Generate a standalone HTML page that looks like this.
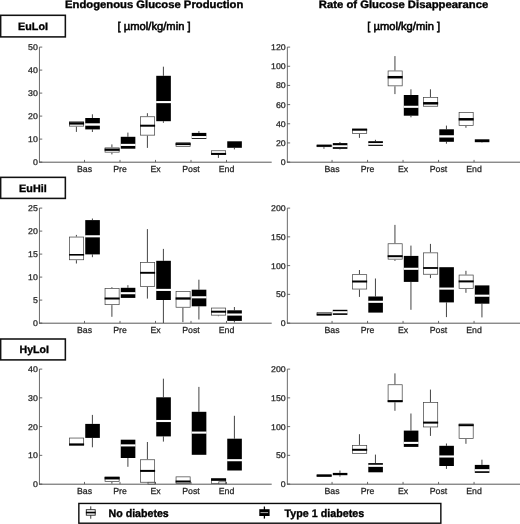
<!DOCTYPE html>
<html><head><meta charset="utf-8"><title>Glucose box plots</title>
<style>
html,body{margin:0;padding:0;background:#fff;}
body{width:520px;height:524px;overflow:hidden;}
svg{display:block;will-change:transform;text-rendering:geometricPrecision;font-family:"Liberation Sans",sans-serif;}
</style></head><body>
<svg width="520" height="524" viewBox="0 0 520 524">
<rect x="0" y="0" width="520" height="524" fill="#fff"/>
<line x1="39.45" y1="47.1" x2="39.45" y2="162.5" stroke="#454545" stroke-width="0.8"/>
<line x1="39.05" y1="162.2" x2="271.7" y2="162.2" stroke="#454545" stroke-width="0.9"/>
<line x1="39.45" y1="162.1" x2="42.25" y2="162.1" stroke="#454545" stroke-width="0.8"/>
<text x="37.85" y="165.1" font-size="8.3" text-anchor="end" textLength="4.89" lengthAdjust="spacingAndGlyphs" fill="#222" stroke="#222" stroke-width="0.25">0</text>
<line x1="39.45" y1="139.1" x2="42.25" y2="139.1" stroke="#454545" stroke-width="0.8"/>
<text x="37.85" y="142.1" font-size="8.3" text-anchor="end" textLength="9.79" lengthAdjust="spacingAndGlyphs" fill="#222" stroke="#222" stroke-width="0.25">10</text>
<line x1="39.45" y1="116.1" x2="42.25" y2="116.1" stroke="#454545" stroke-width="0.8"/>
<text x="37.85" y="119.1" font-size="8.3" text-anchor="end" textLength="9.79" lengthAdjust="spacingAndGlyphs" fill="#222" stroke="#222" stroke-width="0.25">20</text>
<line x1="39.45" y1="93.1" x2="42.25" y2="93.1" stroke="#454545" stroke-width="0.8"/>
<text x="37.85" y="96.1" font-size="8.3" text-anchor="end" textLength="9.79" lengthAdjust="spacingAndGlyphs" fill="#222" stroke="#222" stroke-width="0.25">30</text>
<line x1="39.45" y1="70.1" x2="42.25" y2="70.1" stroke="#454545" stroke-width="0.8"/>
<text x="37.85" y="73.1" font-size="8.3" text-anchor="end" textLength="9.79" lengthAdjust="spacingAndGlyphs" fill="#222" stroke="#222" stroke-width="0.25">40</text>
<line x1="39.45" y1="47.1" x2="42.25" y2="47.1" stroke="#454545" stroke-width="0.8"/>
<text x="37.85" y="50.1" font-size="8.3" text-anchor="end" textLength="9.79" lengthAdjust="spacingAndGlyphs" fill="#222" stroke="#222" stroke-width="0.25">50</text>
<line x1="84.5" y1="162.1" x2="84.5" y2="159.9" stroke="#454545" stroke-width="0.8"/>
<text x="84.5" y="172.45" font-size="8.75" text-anchor="middle" fill="#222" stroke="#222" stroke-width="0.25">Bas</text>
<line x1="120" y1="162.1" x2="120" y2="159.9" stroke="#454545" stroke-width="0.8"/>
<text x="120" y="172.45" font-size="8.75" text-anchor="middle" fill="#222" stroke="#222" stroke-width="0.25">Pre</text>
<line x1="155.5" y1="162.1" x2="155.5" y2="159.9" stroke="#454545" stroke-width="0.8"/>
<text x="155.5" y="172.45" font-size="8.75" text-anchor="middle" fill="#222" stroke="#222" stroke-width="0.25">Ex</text>
<line x1="191" y1="162.1" x2="191" y2="159.9" stroke="#454545" stroke-width="0.8"/>
<text x="191" y="172.45" font-size="8.75" text-anchor="middle" fill="#222" stroke="#222" stroke-width="0.25">Post</text>
<line x1="226.5" y1="162.1" x2="226.5" y2="159.9" stroke="#454545" stroke-width="0.8"/>
<text x="226.5" y="172.45" font-size="8.75" text-anchor="middle" fill="#222" stroke="#222" stroke-width="0.25">End</text>
<line x1="76.4" y1="126.6" x2="76.4" y2="131.9" stroke="#3a3a3a" stroke-width="0.95"/>
<rect x="69.55" y="121.75" width="14.1" height="4.4" fill="#fff" stroke="#444" stroke-width="0.72"/>
<rect x="69.1" y="122.2" width="15" height="2.4" fill="#000"/>
<line x1="92.4" y1="114.3" x2="92.4" y2="118" stroke="#3a3a3a" stroke-width="0.95"/>
<line x1="92.4" y1="129.4" x2="92.4" y2="132" stroke="#3a3a3a" stroke-width="0.95"/>
<rect x="85.25" y="118" width="14.6" height="11.4" fill="#000"/>
<rect x="85.1" y="123.3" width="15" height="2.4" fill="#fff"/>
<line x1="111.9" y1="144.4" x2="111.9" y2="147.4" stroke="#3a3a3a" stroke-width="0.95"/>
<line x1="111.9" y1="152.6" x2="111.9" y2="154.4" stroke="#3a3a3a" stroke-width="0.95"/>
<rect x="105.05" y="147.85" width="14.1" height="4.3" fill="#fff" stroke="#444" stroke-width="0.72"/>
<rect x="104.6" y="148.55" width="15" height="2.3" fill="#000"/>
<line x1="127.9" y1="132.6" x2="127.9" y2="136.8" stroke="#3a3a3a" stroke-width="0.95"/>
<rect x="120.75" y="136.8" width="14.6" height="11.9" fill="#000"/>
<rect x="120.6" y="143.85" width="15" height="2.1" fill="#fff"/>
<line x1="147.4" y1="113.2" x2="147.4" y2="116.3" stroke="#3a3a3a" stroke-width="0.95"/>
<line x1="147.4" y1="135.6" x2="147.4" y2="147.9" stroke="#3a3a3a" stroke-width="0.95"/>
<rect x="140.55" y="116.75" width="14.1" height="18.4" fill="#fff" stroke="#444" stroke-width="0.72"/>
<rect x="140.1" y="124.7" width="15" height="2" fill="#000"/>
<line x1="163.4" y1="66.7" x2="163.4" y2="75.8" stroke="#3a3a3a" stroke-width="0.95"/>
<line x1="163.4" y1="121.2" x2="163.4" y2="122.8" stroke="#3a3a3a" stroke-width="0.95"/>
<rect x="156.25" y="75.8" width="14.6" height="45.4" fill="#000"/>
<rect x="156.1" y="101.05" width="15" height="2.1" fill="#fff"/>
<rect x="176.05" y="142.65" width="14.1" height="3.8" fill="#fff" stroke="#444" stroke-width="0.72"/>
<rect x="175.6" y="143.1" width="15" height="2" fill="#000"/>
<line x1="198.9" y1="131.1" x2="198.9" y2="132.9" stroke="#3a3a3a" stroke-width="0.95"/>
<rect x="191.75" y="132.9" width="14.6" height="6.1" fill="#000"/>
<rect x="191.6" y="136.05" width="15" height="2.1" fill="#fff"/>
<line x1="218.4" y1="154.9" x2="218.4" y2="157.9" stroke="#3a3a3a" stroke-width="0.95"/>
<rect x="211.55" y="150.75" width="14.1" height="3.7" fill="#fff" stroke="#444" stroke-width="0.72"/>
<rect x="211.1" y="152.9" width="15" height="2" fill="#000"/>
<line x1="234.4" y1="147.8" x2="234.4" y2="149.4" stroke="#3a3a3a" stroke-width="0.95"/>
<rect x="227.25" y="141.3" width="14.6" height="6.5" fill="#000"/>
<line x1="287.35" y1="47.1" x2="287.35" y2="162.5" stroke="#454545" stroke-width="0.8"/>
<line x1="286.95" y1="162.2" x2="520" y2="162.2" stroke="#454545" stroke-width="0.9"/>
<line x1="287.35" y1="162.1" x2="290.15" y2="162.1" stroke="#454545" stroke-width="0.8"/>
<text x="285.75" y="165.1" font-size="8.3" text-anchor="end" textLength="4.89" lengthAdjust="spacingAndGlyphs" fill="#222" stroke="#222" stroke-width="0.25">0</text>
<line x1="287.35" y1="142.93" x2="290.15" y2="142.93" stroke="#454545" stroke-width="0.8"/>
<text x="285.75" y="145.93" font-size="8.3" text-anchor="end" textLength="9.79" lengthAdjust="spacingAndGlyphs" fill="#222" stroke="#222" stroke-width="0.25">20</text>
<line x1="287.35" y1="123.77" x2="290.15" y2="123.77" stroke="#454545" stroke-width="0.8"/>
<text x="285.75" y="126.77" font-size="8.3" text-anchor="end" textLength="9.79" lengthAdjust="spacingAndGlyphs" fill="#222" stroke="#222" stroke-width="0.25">40</text>
<line x1="287.35" y1="104.6" x2="290.15" y2="104.6" stroke="#454545" stroke-width="0.8"/>
<text x="285.75" y="107.6" font-size="8.3" text-anchor="end" textLength="9.79" lengthAdjust="spacingAndGlyphs" fill="#222" stroke="#222" stroke-width="0.25">60</text>
<line x1="287.35" y1="85.43" x2="290.15" y2="85.43" stroke="#454545" stroke-width="0.8"/>
<text x="285.75" y="88.43" font-size="8.3" text-anchor="end" textLength="9.79" lengthAdjust="spacingAndGlyphs" fill="#222" stroke="#222" stroke-width="0.25">80</text>
<line x1="287.35" y1="66.27" x2="290.15" y2="66.27" stroke="#454545" stroke-width="0.8"/>
<text x="285.75" y="69.27" font-size="8.3" text-anchor="end" textLength="14.68" lengthAdjust="spacingAndGlyphs" fill="#222" stroke="#222" stroke-width="0.25">100</text>
<line x1="287.35" y1="47.1" x2="290.15" y2="47.1" stroke="#454545" stroke-width="0.8"/>
<text x="285.75" y="50.1" font-size="8.3" text-anchor="end" textLength="14.68" lengthAdjust="spacingAndGlyphs" fill="#222" stroke="#222" stroke-width="0.25">120</text>
<line x1="332.05" y1="162.1" x2="332.05" y2="159.9" stroke="#454545" stroke-width="0.8"/>
<text x="332.05" y="172.45" font-size="8.75" text-anchor="middle" fill="#222" stroke="#222" stroke-width="0.25">Bas</text>
<line x1="367.55" y1="162.1" x2="367.55" y2="159.9" stroke="#454545" stroke-width="0.8"/>
<text x="367.55" y="172.45" font-size="8.75" text-anchor="middle" fill="#222" stroke="#222" stroke-width="0.25">Pre</text>
<line x1="403.05" y1="162.1" x2="403.05" y2="159.9" stroke="#454545" stroke-width="0.8"/>
<text x="403.05" y="172.45" font-size="8.75" text-anchor="middle" fill="#222" stroke="#222" stroke-width="0.25">Ex</text>
<line x1="438.55" y1="162.1" x2="438.55" y2="159.9" stroke="#454545" stroke-width="0.8"/>
<text x="438.55" y="172.45" font-size="8.75" text-anchor="middle" fill="#222" stroke="#222" stroke-width="0.25">Post</text>
<line x1="474.05" y1="162.1" x2="474.05" y2="159.9" stroke="#454545" stroke-width="0.8"/>
<text x="474.05" y="172.45" font-size="8.75" text-anchor="middle" fill="#222" stroke="#222" stroke-width="0.25">End</text>
<line x1="323.95" y1="147.15" x2="323.95" y2="148.8" stroke="#3a3a3a" stroke-width="0.95"/>
<rect x="317.1" y="145" width="14.1" height="1.7" fill="#fff" stroke="#444" stroke-width="0.72"/>
<rect x="316.65" y="144.8" width="15" height="2" fill="#000"/>
<line x1="339.95" y1="142" x2="339.95" y2="143.1" stroke="#3a3a3a" stroke-width="0.95"/>
<line x1="339.95" y1="148.85" x2="339.95" y2="149.4" stroke="#3a3a3a" stroke-width="0.95"/>
<rect x="332.8" y="143.1" width="14.6" height="5.75" fill="#000"/>
<rect x="332.65" y="145.25" width="15" height="1.9" fill="#fff"/>
<line x1="359.45" y1="133.9" x2="359.45" y2="137.9" stroke="#3a3a3a" stroke-width="0.95"/>
<rect x="352.6" y="128.95" width="14.1" height="4.5" fill="#fff" stroke="#444" stroke-width="0.72"/>
<rect x="352.15" y="128.8" width="15" height="1.9" fill="#000"/>
<line x1="375.45" y1="139.8" x2="375.45" y2="141.2" stroke="#3a3a3a" stroke-width="0.95"/>
<rect x="368.3" y="141.2" width="14.6" height="4.7" fill="#000"/>
<rect x="368.15" y="143.05" width="15" height="1.7" fill="#fff"/>
<line x1="394.95" y1="56.1" x2="394.95" y2="70.5" stroke="#3a3a3a" stroke-width="0.95"/>
<line x1="394.95" y1="86.3" x2="394.95" y2="94.1" stroke="#3a3a3a" stroke-width="0.95"/>
<rect x="388.1" y="70.95" width="14.1" height="14.9" fill="#fff" stroke="#444" stroke-width="0.72"/>
<rect x="387.65" y="75.95" width="15" height="2.5" fill="#000"/>
<line x1="410.95" y1="89.3" x2="410.95" y2="95" stroke="#3a3a3a" stroke-width="0.95"/>
<line x1="410.95" y1="115.7" x2="410.95" y2="117.3" stroke="#3a3a3a" stroke-width="0.95"/>
<rect x="403.8" y="95" width="14.6" height="20.7" fill="#000"/>
<rect x="403.65" y="105.75" width="15" height="2.1" fill="#fff"/>
<line x1="430.45" y1="89.3" x2="430.45" y2="97.1" stroke="#3a3a3a" stroke-width="0.95"/>
<rect x="423.6" y="97.55" width="14.1" height="8.7" fill="#fff" stroke="#444" stroke-width="0.72"/>
<rect x="423.15" y="102.05" width="15" height="2.5" fill="#000"/>
<line x1="446.45" y1="125.6" x2="446.45" y2="129.3" stroke="#3a3a3a" stroke-width="0.95"/>
<line x1="446.45" y1="141.8" x2="446.45" y2="143.7" stroke="#3a3a3a" stroke-width="0.95"/>
<rect x="439.3" y="129.3" width="14.6" height="12.5" fill="#000"/>
<rect x="439.15" y="135.25" width="15" height="2.3" fill="#fff"/>
<line x1="465.95" y1="125.9" x2="465.95" y2="127.8" stroke="#3a3a3a" stroke-width="0.95"/>
<rect x="459.1" y="112.55" width="14.1" height="12.9" fill="#fff" stroke="#444" stroke-width="0.72"/>
<rect x="458.65" y="118.05" width="15" height="2.5" fill="#000"/>
<line x1="481.95" y1="142.2" x2="481.95" y2="142.6" stroke="#3a3a3a" stroke-width="0.95"/>
<rect x="474.8" y="139.3" width="14.6" height="2.9" fill="#000"/>
<line x1="39.45" y1="208.1" x2="39.45" y2="323.5" stroke="#454545" stroke-width="0.8"/>
<line x1="39.05" y1="323.2" x2="271.7" y2="323.2" stroke="#454545" stroke-width="0.9"/>
<line x1="39.45" y1="323.1" x2="42.25" y2="323.1" stroke="#454545" stroke-width="0.8"/>
<text x="37.85" y="326.1" font-size="8.3" text-anchor="end" textLength="4.89" lengthAdjust="spacingAndGlyphs" fill="#222" stroke="#222" stroke-width="0.25">0</text>
<line x1="39.45" y1="300.1" x2="42.25" y2="300.1" stroke="#454545" stroke-width="0.8"/>
<text x="37.85" y="303.1" font-size="8.3" text-anchor="end" textLength="4.89" lengthAdjust="spacingAndGlyphs" fill="#222" stroke="#222" stroke-width="0.25">5</text>
<line x1="39.45" y1="277.1" x2="42.25" y2="277.1" stroke="#454545" stroke-width="0.8"/>
<text x="37.85" y="280.1" font-size="8.3" text-anchor="end" textLength="9.79" lengthAdjust="spacingAndGlyphs" fill="#222" stroke="#222" stroke-width="0.25">10</text>
<line x1="39.45" y1="254.1" x2="42.25" y2="254.1" stroke="#454545" stroke-width="0.8"/>
<text x="37.85" y="257.1" font-size="8.3" text-anchor="end" textLength="9.79" lengthAdjust="spacingAndGlyphs" fill="#222" stroke="#222" stroke-width="0.25">15</text>
<line x1="39.45" y1="231.1" x2="42.25" y2="231.1" stroke="#454545" stroke-width="0.8"/>
<text x="37.85" y="234.1" font-size="8.3" text-anchor="end" textLength="9.79" lengthAdjust="spacingAndGlyphs" fill="#222" stroke="#222" stroke-width="0.25">20</text>
<line x1="39.45" y1="208.1" x2="42.25" y2="208.1" stroke="#454545" stroke-width="0.8"/>
<text x="37.85" y="211.1" font-size="8.3" text-anchor="end" textLength="9.79" lengthAdjust="spacingAndGlyphs" fill="#222" stroke="#222" stroke-width="0.25">25</text>
<line x1="84.5" y1="323.1" x2="84.5" y2="320.9" stroke="#454545" stroke-width="0.8"/>
<text x="84.5" y="333.45" font-size="8.75" text-anchor="middle" fill="#222" stroke="#222" stroke-width="0.25">Bas</text>
<line x1="120" y1="323.1" x2="120" y2="320.9" stroke="#454545" stroke-width="0.8"/>
<text x="120" y="333.45" font-size="8.75" text-anchor="middle" fill="#222" stroke="#222" stroke-width="0.25">Pre</text>
<line x1="155.5" y1="323.1" x2="155.5" y2="320.9" stroke="#454545" stroke-width="0.8"/>
<text x="155.5" y="333.45" font-size="8.75" text-anchor="middle" fill="#222" stroke="#222" stroke-width="0.25">Ex</text>
<line x1="191" y1="323.1" x2="191" y2="320.9" stroke="#454545" stroke-width="0.8"/>
<text x="191" y="333.45" font-size="8.75" text-anchor="middle" fill="#222" stroke="#222" stroke-width="0.25">Post</text>
<line x1="226.5" y1="323.1" x2="226.5" y2="320.9" stroke="#454545" stroke-width="0.8"/>
<text x="226.5" y="333.45" font-size="8.75" text-anchor="middle" fill="#222" stroke="#222" stroke-width="0.25">End</text>
<line x1="76.4" y1="234.9" x2="76.4" y2="236.6" stroke="#3a3a3a" stroke-width="0.95"/>
<line x1="76.4" y1="260.2" x2="76.4" y2="263.5" stroke="#3a3a3a" stroke-width="0.95"/>
<rect x="69.55" y="237.05" width="14.1" height="22.7" fill="#fff" stroke="#444" stroke-width="0.72"/>
<rect x="69.1" y="254" width="15" height="1.6" fill="#000"/>
<line x1="92.4" y1="218.5" x2="92.4" y2="220.1" stroke="#3a3a3a" stroke-width="0.95"/>
<line x1="92.4" y1="254.4" x2="92.4" y2="257.2" stroke="#3a3a3a" stroke-width="0.95"/>
<rect x="85.25" y="220.1" width="14.6" height="34.3" fill="#000"/>
<rect x="85.1" y="235.25" width="15" height="2.1" fill="#fff"/>
<line x1="111.9" y1="287.2" x2="111.9" y2="288.1" stroke="#3a3a3a" stroke-width="0.95"/>
<line x1="111.9" y1="305.1" x2="111.9" y2="316.8" stroke="#3a3a3a" stroke-width="0.95"/>
<rect x="105.05" y="288.55" width="14.1" height="16.1" fill="#fff" stroke="#444" stroke-width="0.72"/>
<rect x="104.6" y="297.5" width="15" height="2" fill="#000"/>
<line x1="127.9" y1="285.2" x2="127.9" y2="287.8" stroke="#3a3a3a" stroke-width="0.95"/>
<rect x="120.75" y="287.8" width="14.6" height="10.1" fill="#000"/>
<rect x="120.6" y="292.15" width="15" height="2.1" fill="#fff"/>
<line x1="147.4" y1="229.1" x2="147.4" y2="262.1" stroke="#3a3a3a" stroke-width="0.95"/>
<line x1="147.4" y1="286.8" x2="147.4" y2="298.6" stroke="#3a3a3a" stroke-width="0.95"/>
<rect x="140.55" y="262.55" width="14.1" height="23.8" fill="#fff" stroke="#444" stroke-width="0.72"/>
<rect x="140.1" y="271.85" width="15" height="1.9" fill="#000"/>
<line x1="163.4" y1="248.9" x2="163.4" y2="260.8" stroke="#3a3a3a" stroke-width="0.95"/>
<line x1="163.4" y1="300" x2="163.4" y2="323" stroke="#3a3a3a" stroke-width="0.95"/>
<rect x="156.25" y="260.8" width="14.6" height="39.2" fill="#000"/>
<rect x="156.1" y="288.85" width="15" height="2.1" fill="#fff"/>
<line x1="182.9" y1="307.7" x2="182.9" y2="322.1" stroke="#3a3a3a" stroke-width="0.95"/>
<rect x="176.05" y="291.45" width="14.1" height="15.8" fill="#fff" stroke="#444" stroke-width="0.72"/>
<rect x="175.6" y="297.35" width="15" height="2.3" fill="#000"/>
<line x1="198.9" y1="279.7" x2="198.9" y2="289.7" stroke="#3a3a3a" stroke-width="0.95"/>
<line x1="198.9" y1="306.3" x2="198.9" y2="319.5" stroke="#3a3a3a" stroke-width="0.95"/>
<rect x="191.75" y="289.7" width="14.6" height="16.6" fill="#000"/>
<rect x="191.6" y="296.25" width="15" height="2.1" fill="#fff"/>
<line x1="218.4" y1="315.6" x2="218.4" y2="316.2" stroke="#3a3a3a" stroke-width="0.95"/>
<rect x="211.55" y="308.05" width="14.1" height="7.1" fill="#fff" stroke="#444" stroke-width="0.72"/>
<rect x="211.1" y="310.7" width="15" height="2" fill="#000"/>
<line x1="234.4" y1="307" x2="234.4" y2="310.3" stroke="#3a3a3a" stroke-width="0.95"/>
<line x1="234.4" y1="320.9" x2="234.4" y2="322.4" stroke="#3a3a3a" stroke-width="0.95"/>
<rect x="227.25" y="310.3" width="14.6" height="10.6" fill="#000"/>
<rect x="227.1" y="313.5" width="15" height="2.1" fill="#fff"/>
<line x1="287.35" y1="208.1" x2="287.35" y2="323.5" stroke="#454545" stroke-width="0.8"/>
<line x1="286.95" y1="323.2" x2="520" y2="323.2" stroke="#454545" stroke-width="0.9"/>
<line x1="287.35" y1="323.1" x2="290.15" y2="323.1" stroke="#454545" stroke-width="0.8"/>
<text x="285.75" y="326.1" font-size="8.3" text-anchor="end" textLength="4.89" lengthAdjust="spacingAndGlyphs" fill="#222" stroke="#222" stroke-width="0.25">0</text>
<line x1="287.35" y1="294.35" x2="290.15" y2="294.35" stroke="#454545" stroke-width="0.8"/>
<text x="285.75" y="297.35" font-size="8.3" text-anchor="end" textLength="9.79" lengthAdjust="spacingAndGlyphs" fill="#222" stroke="#222" stroke-width="0.25">50</text>
<line x1="287.35" y1="265.6" x2="290.15" y2="265.6" stroke="#454545" stroke-width="0.8"/>
<text x="285.75" y="268.6" font-size="8.3" text-anchor="end" textLength="14.68" lengthAdjust="spacingAndGlyphs" fill="#222" stroke="#222" stroke-width="0.25">100</text>
<line x1="287.35" y1="236.85" x2="290.15" y2="236.85" stroke="#454545" stroke-width="0.8"/>
<text x="285.75" y="239.85" font-size="8.3" text-anchor="end" textLength="14.68" lengthAdjust="spacingAndGlyphs" fill="#222" stroke="#222" stroke-width="0.25">150</text>
<line x1="287.35" y1="208.1" x2="290.15" y2="208.1" stroke="#454545" stroke-width="0.8"/>
<text x="285.75" y="211.1" font-size="8.3" text-anchor="end" textLength="14.68" lengthAdjust="spacingAndGlyphs" fill="#222" stroke="#222" stroke-width="0.25">200</text>
<line x1="332.05" y1="323.1" x2="332.05" y2="320.9" stroke="#454545" stroke-width="0.8"/>
<text x="332.05" y="333.45" font-size="8.75" text-anchor="middle" fill="#222" stroke="#222" stroke-width="0.25">Bas</text>
<line x1="367.55" y1="323.1" x2="367.55" y2="320.9" stroke="#454545" stroke-width="0.8"/>
<text x="367.55" y="333.45" font-size="8.75" text-anchor="middle" fill="#222" stroke="#222" stroke-width="0.25">Pre</text>
<line x1="403.05" y1="323.1" x2="403.05" y2="320.9" stroke="#454545" stroke-width="0.8"/>
<text x="403.05" y="333.45" font-size="8.75" text-anchor="middle" fill="#222" stroke="#222" stroke-width="0.25">Ex</text>
<line x1="438.55" y1="323.1" x2="438.55" y2="320.9" stroke="#454545" stroke-width="0.8"/>
<text x="438.55" y="333.45" font-size="8.75" text-anchor="middle" fill="#222" stroke="#222" stroke-width="0.25">Post</text>
<line x1="474.05" y1="323.1" x2="474.05" y2="320.9" stroke="#454545" stroke-width="0.8"/>
<text x="474.05" y="333.45" font-size="8.75" text-anchor="middle" fill="#222" stroke="#222" stroke-width="0.25">End</text>
<rect x="317.1" y="312.35" width="14.1" height="2.7" fill="#fff" stroke="#444" stroke-width="0.72"/>
<rect x="316.65" y="313.5" width="15" height="2" fill="#000"/>
<rect x="332.8" y="309.8" width="14.6" height="5.1" fill="#000"/>
<rect x="332.65" y="311.2" width="15" height="2.1" fill="#fff"/>
<line x1="359.45" y1="270" x2="359.45" y2="274.2" stroke="#3a3a3a" stroke-width="0.95"/>
<line x1="359.45" y1="289.5" x2="359.45" y2="296.9" stroke="#3a3a3a" stroke-width="0.95"/>
<rect x="352.6" y="274.65" width="14.1" height="14.4" fill="#fff" stroke="#444" stroke-width="0.72"/>
<rect x="352.15" y="280.5" width="15" height="2" fill="#000"/>
<line x1="375.45" y1="278.5" x2="375.45" y2="296.5" stroke="#3a3a3a" stroke-width="0.95"/>
<rect x="368.3" y="296.5" width="14.6" height="16.1" fill="#000"/>
<rect x="368.15" y="300.75" width="15" height="2.1" fill="#fff"/>
<line x1="394.95" y1="224.9" x2="394.95" y2="243.3" stroke="#3a3a3a" stroke-width="0.95"/>
<line x1="394.95" y1="259.6" x2="394.95" y2="260.9" stroke="#3a3a3a" stroke-width="0.95"/>
<rect x="388.1" y="243.75" width="14.1" height="15.4" fill="#fff" stroke="#444" stroke-width="0.72"/>
<rect x="387.65" y="255.2" width="15" height="2" fill="#000"/>
<line x1="410.95" y1="245.6" x2="410.95" y2="255.9" stroke="#3a3a3a" stroke-width="0.95"/>
<line x1="410.95" y1="281.9" x2="410.95" y2="309.8" stroke="#3a3a3a" stroke-width="0.95"/>
<rect x="403.8" y="255.9" width="14.6" height="26" fill="#000"/>
<rect x="403.65" y="267.75" width="15" height="2.1" fill="#fff"/>
<line x1="430.45" y1="243.9" x2="430.45" y2="252.4" stroke="#3a3a3a" stroke-width="0.95"/>
<line x1="430.45" y1="274.7" x2="430.45" y2="278.1" stroke="#3a3a3a" stroke-width="0.95"/>
<rect x="423.6" y="252.85" width="14.1" height="21.4" fill="#fff" stroke="#444" stroke-width="0.72"/>
<rect x="423.15" y="267.1" width="15" height="1.8" fill="#000"/>
<line x1="446.45" y1="302.4" x2="446.45" y2="317.1" stroke="#3a3a3a" stroke-width="0.95"/>
<rect x="439.3" y="267.2" width="14.6" height="35.2" fill="#000"/>
<rect x="439.15" y="287.55" width="15" height="2.1" fill="#fff"/>
<line x1="465.95" y1="270.8" x2="465.95" y2="274.6" stroke="#3a3a3a" stroke-width="0.95"/>
<line x1="465.95" y1="288.8" x2="465.95" y2="292.8" stroke="#3a3a3a" stroke-width="0.95"/>
<rect x="459.1" y="275.05" width="14.1" height="13.3" fill="#fff" stroke="#444" stroke-width="0.72"/>
<rect x="458.65" y="280.4" width="15" height="2" fill="#000"/>
<line x1="481.95" y1="303.7" x2="481.95" y2="317.4" stroke="#3a3a3a" stroke-width="0.95"/>
<rect x="474.8" y="285.4" width="14.6" height="18.3" fill="#000"/>
<rect x="474.65" y="294.65" width="15" height="2.1" fill="#fff"/>
<line x1="39.45" y1="369.1" x2="39.45" y2="484.5" stroke="#454545" stroke-width="0.8"/>
<line x1="39.05" y1="484.2" x2="271.7" y2="484.2" stroke="#454545" stroke-width="0.9"/>
<line x1="39.45" y1="484.1" x2="42.25" y2="484.1" stroke="#454545" stroke-width="0.8"/>
<text x="37.85" y="487.1" font-size="8.3" text-anchor="end" textLength="4.89" lengthAdjust="spacingAndGlyphs" fill="#222" stroke="#222" stroke-width="0.25">0</text>
<line x1="39.45" y1="455.35" x2="42.25" y2="455.35" stroke="#454545" stroke-width="0.8"/>
<text x="37.85" y="458.35" font-size="8.3" text-anchor="end" textLength="9.79" lengthAdjust="spacingAndGlyphs" fill="#222" stroke="#222" stroke-width="0.25">10</text>
<line x1="39.45" y1="426.6" x2="42.25" y2="426.6" stroke="#454545" stroke-width="0.8"/>
<text x="37.85" y="429.6" font-size="8.3" text-anchor="end" textLength="9.79" lengthAdjust="spacingAndGlyphs" fill="#222" stroke="#222" stroke-width="0.25">20</text>
<line x1="39.45" y1="397.85" x2="42.25" y2="397.85" stroke="#454545" stroke-width="0.8"/>
<text x="37.85" y="400.85" font-size="8.3" text-anchor="end" textLength="9.79" lengthAdjust="spacingAndGlyphs" fill="#222" stroke="#222" stroke-width="0.25">30</text>
<line x1="39.45" y1="369.1" x2="42.25" y2="369.1" stroke="#454545" stroke-width="0.8"/>
<text x="37.85" y="372.1" font-size="8.3" text-anchor="end" textLength="9.79" lengthAdjust="spacingAndGlyphs" fill="#222" stroke="#222" stroke-width="0.25">40</text>
<line x1="84.5" y1="484.1" x2="84.5" y2="481.9" stroke="#454545" stroke-width="0.8"/>
<text x="84.5" y="494.45" font-size="8.75" text-anchor="middle" fill="#222" stroke="#222" stroke-width="0.25">Bas</text>
<line x1="120" y1="484.1" x2="120" y2="481.9" stroke="#454545" stroke-width="0.8"/>
<text x="120" y="494.45" font-size="8.75" text-anchor="middle" fill="#222" stroke="#222" stroke-width="0.25">Pre</text>
<line x1="155.5" y1="484.1" x2="155.5" y2="481.9" stroke="#454545" stroke-width="0.8"/>
<text x="155.5" y="494.45" font-size="8.75" text-anchor="middle" fill="#222" stroke="#222" stroke-width="0.25">Ex</text>
<line x1="191" y1="484.1" x2="191" y2="481.9" stroke="#454545" stroke-width="0.8"/>
<text x="191" y="494.45" font-size="8.75" text-anchor="middle" fill="#222" stroke="#222" stroke-width="0.25">Post</text>
<line x1="226.5" y1="484.1" x2="226.5" y2="481.9" stroke="#454545" stroke-width="0.8"/>
<text x="226.5" y="494.45" font-size="8.75" text-anchor="middle" fill="#222" stroke="#222" stroke-width="0.25">End</text>
<rect x="69.55" y="438.05" width="14.1" height="7.2" fill="#fff" stroke="#444" stroke-width="0.72"/>
<rect x="69.1" y="443.4" width="15" height="2" fill="#000"/>
<line x1="92.4" y1="414.9" x2="92.4" y2="423.9" stroke="#3a3a3a" stroke-width="0.95"/>
<line x1="92.4" y1="437.9" x2="92.4" y2="447.3" stroke="#3a3a3a" stroke-width="0.95"/>
<rect x="85.25" y="423.9" width="14.6" height="14" fill="#000"/>
<line x1="111.9" y1="482" x2="111.9" y2="483.6" stroke="#3a3a3a" stroke-width="0.95"/>
<rect x="105.05" y="477.05" width="14.1" height="4.5" fill="#fff" stroke="#444" stroke-width="0.72"/>
<rect x="104.6" y="476.85" width="15" height="2.6" fill="#000"/>
<line x1="127.9" y1="458" x2="127.9" y2="466.8" stroke="#3a3a3a" stroke-width="0.95"/>
<rect x="120.75" y="439.7" width="14.6" height="18.3" fill="#000"/>
<rect x="120.6" y="444.35" width="15" height="2.1" fill="#fff"/>
<line x1="147.4" y1="442" x2="147.4" y2="459.3" stroke="#3a3a3a" stroke-width="0.95"/>
<rect x="140.55" y="459.75" width="14.1" height="22.5" fill="#fff" stroke="#444" stroke-width="0.72"/>
<rect x="140.1" y="469.9" width="15" height="2" fill="#000"/>
<line x1="163.4" y1="378.7" x2="163.4" y2="397.3" stroke="#3a3a3a" stroke-width="0.95"/>
<line x1="163.4" y1="436.4" x2="163.4" y2="441.6" stroke="#3a3a3a" stroke-width="0.95"/>
<rect x="156.25" y="397.3" width="14.6" height="39.1" fill="#000"/>
<rect x="156.1" y="419.95" width="15" height="2.1" fill="#fff"/>
<rect x="176.05" y="476.85" width="14.1" height="6.5" fill="#fff" stroke="#444" stroke-width="0.72"/>
<rect x="175.6" y="480.5" width="15" height="2" fill="#000"/>
<line x1="198.9" y1="386.9" x2="198.9" y2="411.8" stroke="#3a3a3a" stroke-width="0.95"/>
<rect x="191.75" y="411.8" width="14.6" height="43" fill="#000"/>
<rect x="191.6" y="431.55" width="15" height="2.1" fill="#fff"/>
<rect x="211.55" y="478.85" width="14.1" height="4.5" fill="#fff" stroke="#444" stroke-width="0.72"/>
<rect x="211.1" y="478.35" width="15" height="2.5" fill="#000"/>
<line x1="234.4" y1="415.8" x2="234.4" y2="438.7" stroke="#3a3a3a" stroke-width="0.95"/>
<rect x="227.25" y="438.7" width="14.6" height="31.8" fill="#000"/>
<rect x="227.1" y="459.15" width="15" height="2.1" fill="#fff"/>
<line x1="287.35" y1="369.1" x2="287.35" y2="484.5" stroke="#454545" stroke-width="0.8"/>
<line x1="286.95" y1="484.2" x2="520" y2="484.2" stroke="#454545" stroke-width="0.9"/>
<line x1="287.35" y1="484.1" x2="290.15" y2="484.1" stroke="#454545" stroke-width="0.8"/>
<text x="285.75" y="487.1" font-size="8.3" text-anchor="end" textLength="4.89" lengthAdjust="spacingAndGlyphs" fill="#222" stroke="#222" stroke-width="0.25">0</text>
<line x1="287.35" y1="455.35" x2="290.15" y2="455.35" stroke="#454545" stroke-width="0.8"/>
<text x="285.75" y="458.35" font-size="8.3" text-anchor="end" textLength="9.79" lengthAdjust="spacingAndGlyphs" fill="#222" stroke="#222" stroke-width="0.25">50</text>
<line x1="287.35" y1="426.6" x2="290.15" y2="426.6" stroke="#454545" stroke-width="0.8"/>
<text x="285.75" y="429.6" font-size="8.3" text-anchor="end" textLength="14.68" lengthAdjust="spacingAndGlyphs" fill="#222" stroke="#222" stroke-width="0.25">100</text>
<line x1="287.35" y1="397.85" x2="290.15" y2="397.85" stroke="#454545" stroke-width="0.8"/>
<text x="285.75" y="400.85" font-size="8.3" text-anchor="end" textLength="14.68" lengthAdjust="spacingAndGlyphs" fill="#222" stroke="#222" stroke-width="0.25">150</text>
<line x1="287.35" y1="369.1" x2="290.15" y2="369.1" stroke="#454545" stroke-width="0.8"/>
<text x="285.75" y="372.1" font-size="8.3" text-anchor="end" textLength="14.68" lengthAdjust="spacingAndGlyphs" fill="#222" stroke="#222" stroke-width="0.25">200</text>
<line x1="332.05" y1="484.1" x2="332.05" y2="481.9" stroke="#454545" stroke-width="0.8"/>
<text x="332.05" y="494.45" font-size="8.75" text-anchor="middle" fill="#222" stroke="#222" stroke-width="0.25">Bas</text>
<line x1="367.55" y1="484.1" x2="367.55" y2="481.9" stroke="#454545" stroke-width="0.8"/>
<text x="367.55" y="494.45" font-size="8.75" text-anchor="middle" fill="#222" stroke="#222" stroke-width="0.25">Pre</text>
<line x1="403.05" y1="484.1" x2="403.05" y2="481.9" stroke="#454545" stroke-width="0.8"/>
<text x="403.05" y="494.45" font-size="8.75" text-anchor="middle" fill="#222" stroke="#222" stroke-width="0.25">Ex</text>
<line x1="438.55" y1="484.1" x2="438.55" y2="481.9" stroke="#454545" stroke-width="0.8"/>
<text x="438.55" y="494.45" font-size="8.75" text-anchor="middle" fill="#222" stroke="#222" stroke-width="0.25">Post</text>
<line x1="474.05" y1="484.1" x2="474.05" y2="481.9" stroke="#454545" stroke-width="0.8"/>
<text x="474.05" y="494.45" font-size="8.75" text-anchor="middle" fill="#222" stroke="#222" stroke-width="0.25">End</text>
<rect x="317.1" y="474.65" width="14.1" height="1.8" fill="#fff" stroke="#444" stroke-width="0.72"/>
<rect x="316.65" y="474.7" width="15" height="2" fill="#000"/>
<line x1="339.95" y1="470.5" x2="339.95" y2="472.9" stroke="#3a3a3a" stroke-width="0.95"/>
<line x1="339.95" y1="475.2" x2="339.95" y2="476.6" stroke="#3a3a3a" stroke-width="0.95"/>
<rect x="332.8" y="472.9" width="14.6" height="2.3" fill="#000"/>
<line x1="359.45" y1="434.2" x2="359.45" y2="444.9" stroke="#3a3a3a" stroke-width="0.95"/>
<rect x="352.6" y="445.35" width="14.1" height="8" fill="#fff" stroke="#444" stroke-width="0.72"/>
<rect x="352.15" y="448.8" width="15" height="2" fill="#000"/>
<line x1="375.45" y1="454.6" x2="375.45" y2="463.1" stroke="#3a3a3a" stroke-width="0.95"/>
<rect x="368.3" y="463.1" width="14.6" height="9.2" fill="#000"/>
<rect x="368.15" y="464.75" width="15" height="2.1" fill="#fff"/>
<line x1="394.95" y1="373.4" x2="394.95" y2="384.3" stroke="#3a3a3a" stroke-width="0.95"/>
<line x1="394.95" y1="402.3" x2="394.95" y2="410.8" stroke="#3a3a3a" stroke-width="0.95"/>
<rect x="388.1" y="384.75" width="14.1" height="17.1" fill="#fff" stroke="#444" stroke-width="0.72"/>
<rect x="387.65" y="400.1" width="15" height="2" fill="#000"/>
<line x1="410.95" y1="413.5" x2="410.95" y2="430.6" stroke="#3a3a3a" stroke-width="0.95"/>
<rect x="403.8" y="430.6" width="14.6" height="16.3" fill="#000"/>
<rect x="403.65" y="441.85" width="15" height="2.1" fill="#fff"/>
<line x1="430.45" y1="389.6" x2="430.45" y2="402" stroke="#3a3a3a" stroke-width="0.95"/>
<line x1="430.45" y1="427.4" x2="430.45" y2="435.9" stroke="#3a3a3a" stroke-width="0.95"/>
<rect x="423.6" y="402.45" width="14.1" height="24.5" fill="#fff" stroke="#444" stroke-width="0.72"/>
<rect x="423.15" y="421.6" width="15" height="2" fill="#000"/>
<line x1="446.45" y1="443.5" x2="446.45" y2="445.8" stroke="#3a3a3a" stroke-width="0.95"/>
<line x1="446.45" y1="466" x2="446.45" y2="468.9" stroke="#3a3a3a" stroke-width="0.95"/>
<rect x="439.3" y="445.8" width="14.6" height="20.2" fill="#000"/>
<rect x="439.15" y="455.45" width="15" height="2.1" fill="#fff"/>
<line x1="465.95" y1="438.9" x2="465.95" y2="443.8" stroke="#3a3a3a" stroke-width="0.95"/>
<rect x="459.1" y="423.95" width="14.1" height="14.5" fill="#fff" stroke="#444" stroke-width="0.72"/>
<rect x="458.65" y="424.2" width="15" height="2" fill="#000"/>
<line x1="481.95" y1="459.7" x2="481.95" y2="464.9" stroke="#3a3a3a" stroke-width="0.95"/>
<rect x="474.8" y="464.9" width="14.6" height="8" fill="#000"/>
<rect x="474.65" y="469.15" width="15" height="2.1" fill="#fff"/>
<rect x="148" y="482.3" width="7" height="1.7" fill="#fff" stroke="#444" stroke-width="0.72"/>
<rect x="218.8" y="481.8" width="7" height="2" fill="#fff" stroke="#444" stroke-width="0.72"/>
<rect x="0.65" y="15.3" width="64.7" height="21.6" fill="#fff" stroke="#111" stroke-width="1.55"/>
<text x="18.1" y="29.5" font-size="10.7" text-anchor="start" font-weight="bold" textLength="29.9" lengthAdjust="spacingAndGlyphs" fill="#000" stroke="#000" stroke-width="0.35">EuLoI</text>
<rect x="0.65" y="177.35" width="64.7" height="21.05" fill="#fff" stroke="#111" stroke-width="1.55"/>
<text x="19.1" y="191.6" font-size="10.7" text-anchor="start" font-weight="bold" textLength="27.6" lengthAdjust="spacingAndGlyphs" fill="#000" stroke="#000" stroke-width="0.35">EuHiI</text>
<rect x="0.65" y="339" width="64.7" height="20.9" fill="#fff" stroke="#111" stroke-width="1.55"/>
<text x="19.6" y="353.2" font-size="10.7" text-anchor="start" font-weight="bold" textLength="29.4" lengthAdjust="spacingAndGlyphs" fill="#000" stroke="#000" stroke-width="0.35">HyLoI</text>
<text x="65" y="7.8" font-size="10.8" text-anchor="start" font-weight="bold" textLength="178.3" lengthAdjust="spacingAndGlyphs" fill="#000" stroke="#000" stroke-width="0.35">Endogenous Glucose Production</text>
<text x="318.8" y="7.8" font-size="10.8" text-anchor="start" font-weight="bold" textLength="169.4" lengthAdjust="spacingAndGlyphs" fill="#000" stroke="#000" stroke-width="0.35">Rate of Glucose Disappearance</text>
<text x="117.6" y="30.4" font-size="11.2" text-anchor="start" textLength="73" lengthAdjust="spacingAndGlyphs" fill="#000" stroke="#000" stroke-width="0.55">[ µmol/kg/min ]</text>
<text x="367.3" y="30.4" font-size="11.2" text-anchor="start" textLength="72.8" lengthAdjust="spacingAndGlyphs" fill="#000" stroke="#000" stroke-width="0.55">[ µmol/kg/min ]</text>
<rect x="78.85" y="503.45" width="362" height="19.75" fill="#fff" stroke="#0a0a0a" stroke-width="1.4"/>
<line x1="90.75" y1="506.4" x2="90.75" y2="518.7" stroke="#222" stroke-width="0.9"/>
<rect x="86.3" y="509.7" width="8.9" height="5.5" fill="#fff" stroke="#222" stroke-width="0.9"/>
<rect x="85.9" y="511.7" width="9.7" height="1.7" fill="#000"/>
<line x1="264.4" y1="506.5" x2="264.4" y2="518.6" stroke="#000" stroke-width="1.3"/>
<rect x="259.3" y="509.2" width="10.3" height="6.8" fill="#000"/>
<rect x="260.5" y="512.3" width="7.6" height="0.75" fill="#ddd"/>
<text x="108.5" y="517" font-size="11.0" text-anchor="start" font-weight="bold" textLength="60.3" lengthAdjust="spacingAndGlyphs" fill="#000" stroke="#000" stroke-width="0.35">No diabetes</text>
<text x="284.6" y="517" font-size="11.0" text-anchor="start" font-weight="bold" textLength="79.6" lengthAdjust="spacingAndGlyphs" fill="#000" stroke="#000" stroke-width="0.35">Type 1 diabetes</text>
</svg>
</body></html>
